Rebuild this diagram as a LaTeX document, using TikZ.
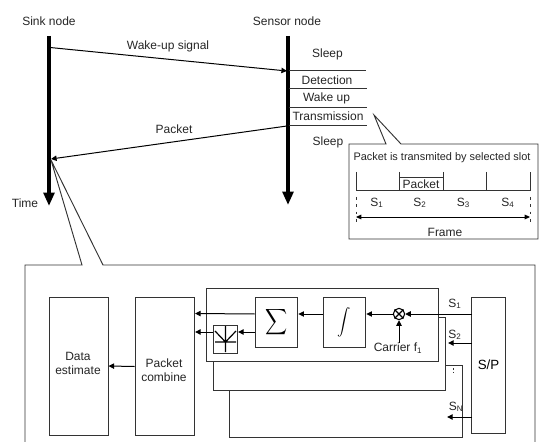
\documentclass[tikz,border=0pt]{standalone}
\usepackage{fontspec}
\setmainfont{Liberation Sans}
\usetikzlibrary{arrows.meta}
\tikzset{
 px/.style={x=0.75pt,y=-0.75pt},
 lbl/.style={font=\fontsize{9}{10.5}\selectfont,text=black!85,inner sep=0pt,align=center},
 box/.style={draw=black!80,line width=0.7pt,fill=white,inner sep=0pt},
 thin line/.style={draw=black!80,line width=0.7pt},
 ar/.style={draw=black,line width=0.75pt,-{Triangle[length=4.2pt,width=4pt]}},
 tl/.style={draw=black,line width=2.6pt,-{Triangle[length=10pt,width=8pt]}},
}
\begin{document}
\begin{tikzpicture}[px]
\useasboundingbox (0,0) rectangle (539,442);
\fill[white] (0,0) rectangle (539,442);
% timelines
\coordinate (sinkT) at (49,36); \coordinate (sinkB) at (49,206);
\coordinate (sensT) at (288,36); \coordinate (sensB) at (288,205);
\draw[tl] (sinkT) -- (sinkB);
\draw[tl] (sensT) -- (sensB);
\node[lbl] (sinkL) at (49,21) {Sink node};
\node[lbl] (sensL) at (287,21) {Sensor node};
\node[lbl] (timeL) at (25,203) {Time};
% signals
\coordinate (w1) at (50,47.5); \coordinate (w2) at (287,71);
\draw[ar] (w1) -- (w2);
\node[lbl] (wl) at (168,46) {Wake-up signal};
\coordinate (p1) at (287,126); \coordinate (p2) at (51,159);
\draw[ar] (p1) -- (p2);
\node[lbl] (pl) at (174,129) {Packet};
% states
\foreach \y/\xe in {70/366,88/367,107/367,125/367}
  \draw[thin line] (289,\y) -- (\xe,\y);
\node[lbl] at (327.5,54) {Sleep};
\node[lbl] at (327,80) {Detection};
\node[lbl] at (326.5,98) {Wake up};
\node[lbl] at (328,116) {Transmission};
\node[lbl] at (328,142) {Sleep};
% callout
\draw[thin line,fill=white] (349,144) -- (386,144) -- (374,115) -- (401,144) -- (538,144) -- (538,239) -- (349,239) -- cycle;
\node[lbl,font=\fontsize{8.2}{10}\selectfont] (ct) at (442,158) {Packet is transmited by selected slot};
\draw[thin line] (356,172) -- (356,190) -- (530,190) -- (530,172);
\draw[thin line] (399.5,172) -- (399.5,190) (443,172) -- (443,190) (486.5,172) -- (486.5,190);
\draw[thin line] (399.5,177) -- (443,177);
\node[lbl] at (421,184) {Packet};
\foreach \x/\t in {377/1,420/2,463.5/3,508/4}
  \node[lbl] at (\x,203) {S\textsubscript{\t}};
\draw[thin line,dash pattern=on 2pt off 3.5pt] (356,197) -- (356,222) (530,197) -- (530,222);
\coordinate (fa) at (356,217); \coordinate (fb) at (530,217);
\draw[draw=black,line width=0.7pt,{Triangle[length=4pt,width=3.5pt]}-{Triangle[length=4pt,width=3.5pt]}] (fa) -- (fb);
\node[lbl] at (445,232) {Frame};
% lower frame
\draw[thin line] (25,442) -- (25,265) -- (82,265) -- (51,160) -- (103,265) -- (535,265) -- (535,442);
\node[box,minimum width=44.25pt,minimum height=103.5pt] (est) at (78.5,366) {};
\node[lbl] at (78,363) {Data\\estimate};
\node[box,minimum width=44.25pt,minimum height=104pt] (pc) at (164.5,366.5) {};
\node[lbl] at (164,370) {Packet\\combine};
% stacked boards
\draw[thin line] (229,365) rectangle (462,437.5);
\draw[thin line,fill=white] (213,317) rectangle (445,390);
\draw[thin line,fill=white] (206,288) rectangle (438,361);
\node[box,minimum width=32pt,minimum height=37.5pt] (sum) at (276.5,322) {\scalebox{1.15}[1.35]{$\displaystyle\sum$}};
\node[box,minimum width=32pt,minimum height=37.5pt] (int) at (344.5,322) {$\displaystyle\int$};
\node[box,minimum width=18.5pt,minimum height=21pt] (dev) at (225.5,339) {};
\draw[line width=0.9pt] (225.5,352) -- (225.5,326) (215,331) -- (225.5,342) -- (236,331) (215,342) -- (236,342);
\node[draw=black,line width=0.8pt,circle,minimum size=8.5pt,inner sep=0pt] (mix) at (399,314) {};
\draw[line width=0.9pt] (mix.north west) -- (mix.south east) (mix.north east) -- (mix.south west);
\node[lbl] (car) at (398,348) {Carrier f\textsubscript{1}};
\node[box,minimum width=25pt,minimum height=102pt] (sp) at (488.5,365) {S/P};
\coordinate (sp1) at (472,314); \coordinate (sp2) at (472,343); \coordinate (spn) at (472,417);
\coordinate (e2) at (448,343); \coordinate (en) at (447,417);
\coordinate (pc1) at (195,313.5); \coordinate (pc2) at (195,332);
\coordinate (dv) at (238,332); \coordinate (dw) at (213,332); \coordinate (sw) at (255,332);
\draw[ar] (sp1) -- (mix.east);
\draw[ar] (car.north -| mix) -- (mix.south);
\draw[ar] (mix.west) -- (int.east |- mix);
\draw[ar] (int.west |- mix) -- (sum.east |- mix);
\draw[ar] (sum.west |- mix) -- (pc1);
\draw[ar] (sw) -- (dv);
\draw[ar] (dw) -- (pc2);
\draw[ar] (sp2) -- (e2);
\draw[ar] (spn) -- (en);
\draw[ar] (pc.west) -- (est.east);
\node[lbl] at (455,304) {S\textsubscript{1}};
\node[lbl] at (455,335) {S\textsubscript{2}};
\node[lbl] at (456,407) {S\textsubscript{N}};
\draw[black!80,line width=0.8pt,dash pattern=on 0.8pt off 1.8pt] (453.5,365) -- (453.5,373);
\end{tikzpicture}
\end{document}
